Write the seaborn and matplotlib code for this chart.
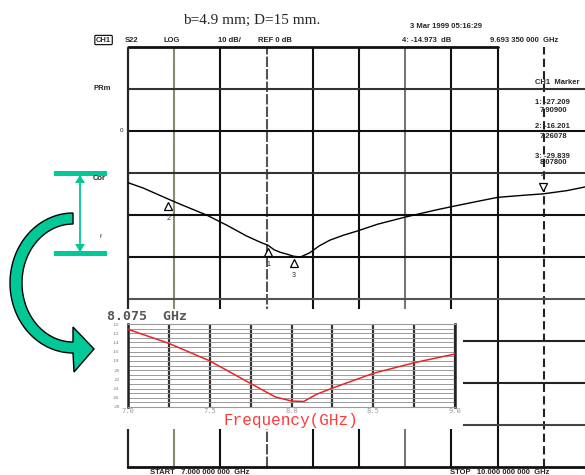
import numpy as np
import matplotlib
matplotlib.use("Agg")
import matplotlib.pyplot as plt
from matplotlib.patches import Polygon, Rectangle
import seaborn as sns

# ---- measured sweep, S22 log magnitude (dB) vs frequency (GHz) ----
sweep_ghz = [7.00, 7.10, 7.26078, 7.35, 7.51, 7.64, 7.77, 7.86, 7.909, 7.95, 7.99,
             8.03, 8.078, 8.12, 8.18, 8.24, 8.31, 8.40, 8.49, 8.62, 8.80, 9.00,
             9.09, 9.25, 9.40, 9.57, 9.69335, 9.85, 9.97]
sweep_db = [-12.3, -13.6, -16.201, -17.6, -20.0, -22.4, -25.0, -26.5, -27.209, -28.3, -28.9,
            -29.3, -29.839, -30.0, -29.0, -27.4, -26.0, -24.8, -23.8, -22.2, -20.5, -18.8,
            -18.1, -16.9, -15.8, -15.3, -14.973, -14.2, -13.3]

# analyzer markers
marker_ids = ["1", "2", "3", "4"]
marker_ghz = [7.909, 7.26078, 8.078, 9.69335]
marker_db = [-27.209, -16.201, -29.839, -14.973]
marker_ghz_text = ["7.90900", "7.26078", "8.07800"]

# ---- simulated response (inset) ----
sim_ghz = [7.0, 7.25, 7.5, 7.75, 7.9, 8.0, 8.075, 8.15, 8.25, 8.5, 8.75, 9.0]
sim_db = [-11.15, -14.2, -18.0, -22.9, -25.8, -26.7, -26.8, -25.3, -23.9, -20.7, -18.4, -16.5]
sim_xticks = [7.0, 7.5, 8.0, 8.5, 9.0]
sim_yticks = [-28, -26, -24, -22, -20, -18, -16, -14, -12, -10]

sns.set_style("white")
plt.rcParams["font.family"] = ["Liberation Sans", "DejaVu Sans"]

W, H = 585, 475
fig = plt.figure(figsize=(W / 100, H / 100), dpi=100)
fig.patch.set_facecolor("white")


def fr(x0, y0, x1, y1):
    """pixel box (top-left origin) -> figure fraction rect"""
    return [x0 / W, 1 - y1 / H, (x1 - x0) / W, (y1 - y0) / H]


# ---------------- analyzer display ----------------
ax = fig.add_axes(fr(128, 47, 590, 467))
ax.set_zorder(0)
ax.set_xlim(7.0, 10.0)
ax.set_ylim(-80, 20)
ax.set_xticks([])
ax.set_yticks([])
for s in ["top", "right"]:
    ax.spines[s].set_visible(False)
ax.spines["left"].set_linewidth(1.6)
ax.spines["left"].set_linestyle((0, (6, 1)))
ax.spines["bottom"].set_linewidth(2.0)
ax.spines["bottom"].set_color("#111111")

vcols = ["#8a8a70", "#111111", "#555555", "#111111", "#111111", "#777777", "#111111", "#111111", "#222222"]
vstyles = ["-", "-", (0, (5, 1)), "-", "-", "-", "-", "-", (0, (4, 2))]
for i, (c, ls) in enumerate(zip(vcols, vstyles)):
    ax.axvline(7.0 + 0.3 * (i + 1), color=c, lw=1.5, ls=ls, zorder=1)
hcols = ["#333333", "#111111", "#333333", "#111111", "#111111", "#555555", "#222222", "#222222", "#444444"]
for i, c in enumerate(hcols):
    ax.axhline(10 - 10 * i, color=c, lw=1.5, zorder=1)
ax.axhline(20, xmax=0.8, color="#111111", lw=2.0, clip_on=False, zorder=1)

sns.lineplot(x=sweep_ghz, y=sweep_db, ax=ax, color="black", lw=1.0,
             estimator=None, sort=False, zorder=3)

for mid, f, d in zip(marker_ids, marker_ghz, marker_db):
    if mid == "4":
        ax.plot(f, d + 1.6, marker="v", ms=6, mfc="white", mec="black", mew=0.9, zorder=4)
        ax.text(f, d + 4.3, mid, fontsize=5, ha="center", va="center", zorder=4)
    else:
        ax.plot(f, d - 1.6, marker="^", ms=6, mfc="white", mec="black", mew=0.9, zorder=4)
        ax.text(f, d - 4.6, mid, fontsize=5, ha="center", va="center", zorder=4)

# white card under the inset
fig.add_artist(Rectangle((100 / W, 1 - 429 / H), 363 / W, 120 / H,
                         transform=fig.transFigure, facecolor="white",
                         edgecolor="none", zorder=1))

# ---------------- inset: simulated response ----------------
ia = fig.add_axes(fr(128, 324, 455, 407))
ia.set_zorder(2)
ia.set_xlim(7.0, 9.0)
ia.set_ylim(-28, -10)
ia.set_yticks(np.arange(-28, -9, 1), minor=True)
ia.set_xticks(np.arange(7.0, 9.01, 0.25), minor=True)
ia.set_xticks(sim_xticks)
ia.set_xticklabels([f"{t:.1f}" for t in sim_xticks], fontsize=5, color="#9a9a9a",
                   family="DejaVu Sans Mono")
ia.set_yticks(sim_yticks)
ia.set_yticklabels([str(t) for t in sim_yticks], fontsize=3.2, color="#777777")
ia.tick_params(which="both", length=0, pad=1.0)
ia.tick_params(axis="y", pad=6)
ia.grid(which="minor", axis="y", color="#9a9a9a", lw=0.7)
ia.grid(which="major", axis="y", color="#9a9a9a", lw=0.7)
ia.grid(which="both", axis="x", color="#333333", lw=1.6)
for s in ["top", "bottom"]:
    ia.spines[s].set_color("#9a9a9a")
    ia.spines[s].set_linewidth(0.8)
for s in ["left", "right"]:
    ia.spines[s].set_color("#222222")
    ia.spines[s].set_linewidth(1.8)
sns.lineplot(x=sim_ghz, y=sim_db, ax=ia, color="#ee2222", lw=1.1, estimator=None, zorder=3)
ia.set_xlabel("")
ia.set_ylabel("")

# ---------------- labels & annotations (pixel coordinates) ----------------
ov = fig.add_axes([0, 0, 1, 1])
ov.set_zorder(5)
ov.set_xlim(0, W)
ov.set_ylim(H, 0)
ov.axis("off")
ov.patch.set_alpha(0)

small = dict(fontsize=5.5, fontweight="bold", va="center", ha="left")
ov.text(252, 20, "b=4.9 mm; D=15 mm.", family="Liberation Serif", fontsize=11,
        ha="center", va="center")
ov.text(410, 26, "3 Mar 1999 05:16:29", **small)
ov.text(96, 40, "CH1", bbox=dict(boxstyle="round,pad=0.15", fc="white", ec="black", lw=0.8), **small)
ov.text(125, 40, "S22", **small)
ov.text(163, 40, "LOG", **small)
ov.text(218, 40, "10 dB/", **small)
ov.text(258, 40, "REF 0 dB", **small)
ov.text(402, 40, f"4: {marker_db[3]:.3f}  dB", **small)
ov.text(490, 40, "9.693 350 000  GHz", **small)

ov.text(93, 88, "PRm", **small)
ov.text(121, 130, "0", fontsize=4.5, va="center", ha="center")
ov.text(93, 179, "Cor", **small)
ov.text(101, 236, "f", fontsize=4.5, va="center", ha="center")

ov.text(535, 83, "CH1  Marker", **small)
list_y = [(102, 110), (127, 137), (156, 163)]
for (y0, y1), mid, d, ft in zip(list_y, marker_ids[:3], marker_db[:3], marker_ghz_text):
    ov.text(535, y0, f"{mid}: {d:.3f}", **small)
    ov.text(540, y1, ft, **small)

ov.text(150, 472, "START   7.000 000 000  GHz", **small)
ov.text(450, 472, "STOP   10.000 000 000  GHz", **small)
ov.text(107, 317, "8.075  GHz", family="DejaVu Sans Mono", fontsize=9.5,
        fontweight="bold", color="#555555", va="center", ha="left")
ov.text(291, 421, "Frequency(GHz)", family="Liberation Mono", fontsize=11.5,
        color="#ff3a3a", va="center", ha="center")

# ---------------- green guides ----------------
green = "#00c896"
for yb in (173, 253):
    ov.add_patch(Rectangle((54, yb - 2.5), 53, 5, facecolor=green, edgecolor="none"))
ov.plot([80, 80], [175, 251], color=green, lw=1.3)
ov.add_patch(Polygon([[75, 183], [85, 183], [80, 175]], closed=True, facecolor=green, edgecolor="none"))
ov.add_patch(Polygon([[75, 244], [85, 244], [80, 252]], closed=True, facecolor=green, edgecolor="none"))

cx, cy = 73, 283
t = np.linspace(0, np.pi, 80)
outer = np.column_stack([cx - 63 * np.sin(t), cy - 70 * np.cos(t)])
inner = np.column_stack([cx - 51 * np.sin(t), cy - 59 * np.cos(t)])[::-1]
head = np.array([[74, 372], [94, 349], [73, 327]])
arrow = np.vstack([outer, head, inner])
ov.add_patch(Polygon(arrow, closed=True, facecolor=green, edgecolor="black", lw=1.0))

fig.savefig("out.png", dpi=100, facecolor="white")
